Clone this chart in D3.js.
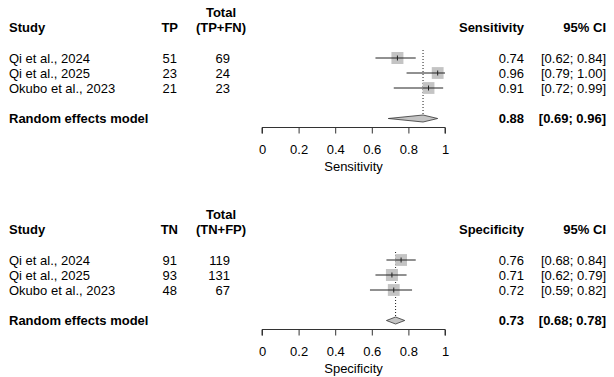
<!DOCTYPE html>
<html>
<head>
<meta charset="utf-8">
<script src="https://cdn.jsdelivr.net/npm/d3@7"></script>
<style>
  body { margin: 0; background: #fff; }
  text { font-family: "Liberation Sans", Arial, sans-serif; font-size: 13px; fill: #000; }
  .bold { font-weight: bold; }
</style>
</head>
<body>
<div id="chart"></div>
<script>
const studies = ["Qi et al., 2024", "Qi et al., 2025", "Okubo et al., 2023"];

const tp = [51, 23, 21];
const totalPos = [69, 24, 23];
const sens = [0.74, 0.96, 0.91];
const sensLo = [0.62, 0.79, 0.72];
const sensHi = [0.84, 1.00, 0.99];
const sensWeight = [34, 33, 33];
const sensPooled = [0.88, 0.69, 0.96];

const tn = [91, 93, 48];
const totalNeg = [119, 131, 67];
const spec = [0.76, 0.71, 0.72];
const specLo = [0.68, 0.62, 0.59];
const specHi = [0.84, 0.79, 0.82];
const specWeight = [33, 34, 33];
const specPooled = [0.73, 0.68, 0.78];

const axisTicks = [0, 0.2, 0.4, 0.6, 0.8, 1];

const width = 614, height = 377;

const svg = d3.select("#chart")
    .append("svg")
    .attr("width", width)
    .attr("height", height);

const x = d3.scaleLinear().domain([0, 1]).range([262, 445]);
const box = d3.scaleSqrt().domain([0, 34]).range([0, 12]);
const fmt = d3.format(".2f");

function panel(top, cfg) {
  const g = svg.append("g").attr("transform", "translate(0," + top + ")");
  const rowY = [58, 73, 88];
  const pooledY = 118.5;

  // headers
  g.append("text").attr("class", "bold").attr("x", 9).attr("y", 31.5).text("Study");
  g.append("text").attr("class", "bold").attr("x", 178).attr("y", 31.5)
      .attr("text-anchor", "end").text(cfg.countLabel);
  g.append("text").attr("class", "bold").attr("x", 221).attr("y", 16.5)
      .attr("text-anchor", "middle").text("Total");
  g.append("text").attr("class", "bold").attr("x", 221).attr("y", 31.5)
      .attr("text-anchor", "middle").text(cfg.totalLabel);
  g.append("text").attr("class", "bold").attr("x", 524).attr("y", 31.5)
      .attr("text-anchor", "end").text(cfg.measure);
  g.append("text").attr("class", "bold").attr("x", 606).attr("y", 31.5)
      .attr("text-anchor", "end").text("95% CI");

  const rows = studies.map((s, i) => ({
    study: s, count: cfg.count[i], total: cfg.total[i],
    est: cfg.est[i], lo: cfg.lo[i], hi: cfg.hi[i], w: cfg.weight[i], y: rowY[i]
  }));

  // dotted pooled line
  g.append("line")
      .attr("x1", x(cfg.pooled[0])).attr("x2", x(cfg.pooled[0]))
      .attr("y1", rowY[0] - 8).attr("y2", pooledY - 1)
      .attr("stroke", "#000").attr("stroke-width", 0.9)
      .attr("stroke-dasharray", "1,2");

  const r = g.selectAll(".row").data(rows).enter().append("g").attr("class", "row");

  r.append("text").attr("x", 9).attr("y", d => d.y + 4.5).text(d => d.study);
  r.append("text").attr("x", 177).attr("y", d => d.y + 4.5)
      .attr("text-anchor", "end").text(d => d.count);
  r.append("text").attr("x", 230).attr("y", d => d.y + 4.5)
      .attr("text-anchor", "end").text(d => d.total);
  r.append("text").attr("x", 524).attr("y", d => d.y + 4.5)
      .attr("text-anchor", "end").text(d => fmt(d.est));
  r.append("text").attr("x", 606).attr("y", d => d.y + 4.5)
      .attr("text-anchor", "end").text(d => "[" + fmt(d.lo) + "; " + fmt(d.hi) + "]");

  r.append("rect")
      .attr("x", d => x(d.est) - box(d.w) / 2)
      .attr("y", d => d.y - box(d.w) / 2)
      .attr("width", d => box(d.w))
      .attr("height", d => box(d.w))
      .attr("fill", "#c4c4c4");
  r.append("line")
      .attr("x1", d => x(d.lo)).attr("x2", d => x(d.hi))
      .attr("y1", d => d.y).attr("y2", d => d.y)
      .attr("stroke", "#222").attr("stroke-width", 1);
  r.append("line")
      .attr("x1", d => x(d.est)).attr("x2", d => x(d.est))
      .attr("y1", d => d.y - 2.5).attr("y2", d => d.y + 2.5)
      .attr("stroke", "#222").attr("stroke-width", 1);

  // pooled row
  g.append("text").attr("class", "bold").attr("x", 9).attr("y", pooledY + 4.5)
      .text("Random effects model");
  g.append("text").attr("class", "bold").attr("x", 524).attr("y", pooledY + 4.5)
      .attr("text-anchor", "end").text(fmt(cfg.pooled[0]));
  g.append("text").attr("class", "bold").attr("x", 606).attr("y", pooledY + 4.5)
      .attr("text-anchor", "end")
      .text("[" + fmt(cfg.pooled[1]) + "; " + fmt(cfg.pooled[2]) + "]");

  const p = cfg.pooled;
  g.append("path")
      .attr("d", "M" + x(p[1]) + "," + pooledY +
                 "L" + x(p[0]) + "," + (pooledY - 3.5) +
                 "L" + x(p[2]) + "," + pooledY +
                 "L" + x(p[0]) + "," + (pooledY + 3.5) + "Z")
      .attr("fill", "#c4c4c4")
      .attr("stroke", "#333").attr("stroke-width", 0.8);

  // axis
  const ax = g.append("g")
      .attr("transform", "translate(0,127.5)")
      .call(d3.axisBottom(x).tickValues(axisTicks).tickSize(6).tickPadding(11)
            .tickFormat(d3.format("")));
  ax.select(".domain").attr("d", "M" + x(0) + ",6V0H" + x(1) + "V6").attr("stroke", "#333");
  ax.selectAll(".tick line").attr("stroke", "#333");
  ax.selectAll(".tick text")
      .style("font-family", "\"Liberation Sans\", Arial, sans-serif")
      .style("font-size", "13px").attr("fill", "#000");

  g.append("text").attr("x", x(0.5)).attr("y", 170.5)
      .attr("text-anchor", "middle").text(cfg.measure);
}

panel(0, {
  countLabel: "TP", totalLabel: "(TP+FN)", measure: "Sensitivity",
  count: tp, total: totalPos, est: sens, lo: sensLo, hi: sensHi,
  weight: sensWeight, pooled: sensPooled
});

panel(202, {
  countLabel: "TN", totalLabel: "(TN+FP)", measure: "Specificity",
  count: tn, total: totalNeg, est: spec, lo: specLo, hi: specHi,
  weight: specWeight, pooled: specPooled
});
</script>
</body>
</html>
